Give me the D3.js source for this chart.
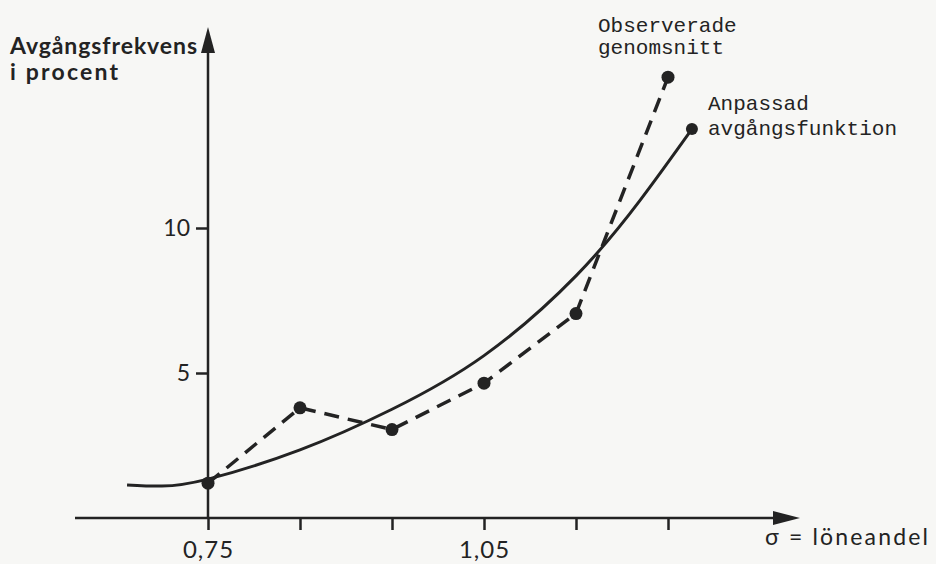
<!DOCTYPE html>
<html>
<head>
<meta charset="utf-8">
<script src="https://cdn.jsdelivr.net/npm/d3@7"></script>
<style>
	body { margin: 0; background: #f7f7f5; }
	svg { display: block; }
</style>
</head>
<body>
<div id="container"></div>
<script>
// values
var observedX = [0.75, 0.85, 0.95, 1.05, 1.15, 1.25];
var observedY = [1.2, 3.8, 3.05, 4.65, 7.05, 15.2];
var fittedX = [0.662, 0.70, 0.75, 0.85, 0.95, 1.05, 1.15, 1.22, 1.276];
var fittedY = [1.14, 1.10, 1.34, 2.35, 3.75, 5.6, 8.35, 10.97, 13.41];
var xTicks = [0.75, 0.85, 0.95, 1.05, 1.15, 1.25];
var xTickLabels = ["0,75", "", "", "1,05", "", ""];
var yTicks = [5, 10];
var yTickLabels = ["5", "10"];

(function()
{
	var width = 936, height = 564;
	var ink = "#232323";
	var svg = d3.select("#container").append("svg").attr("width", width).attr("height", height);

	var x = d3.scaleLinear().domain([0.75, 1.25]).range([208, 668]);
	var y = d3.scaleLinear().domain([0, 10]).range([518, 228]);

	// axis lines with arrow heads
	var x0 = x(0.75), y0 = y(0);
	svg.append("line").attr("x1", 75).attr("x2", 780).attr("y1", y0).attr("y2", y0)
		.attr("stroke", ink).attr("stroke-width", 2.5);
	svg.append("path").attr("d", "M800," + y0 + " L773," + (y0 - 7) + " L773," + (y0 + 7) + " Z").attr("fill", ink);
	svg.append("line").attr("x1", x0).attr("x2", x0).attr("y1", y0).attr("y2", 45)
		.attr("stroke", ink).attr("stroke-width", 2.5);
	svg.append("path").attr("d", "M" + x0 + ",27 L" + (x0 - 7) + ",53 L" + (x0 + 7) + ",53 Z").attr("fill", ink);

	var xAxis = d3.axisBottom(x).tickValues(xTicks).tickSize(12).tickPadding(11)
		.tickFormat(function(d, i) { return xTickLabels[i]; });
	var gx = svg.append("g").attr("transform", "translate(0," + y0 + ")").call(xAxis);
	gx.select(".domain").remove();
	gx.selectAll(".tick line").attr("stroke", ink).attr("stroke-width", 2.5);
	gx.selectAll(".tick text").attr("fill", ink).style("font", "24px Lato").style("letter-spacing", "1px");

	var yAxis = d3.axisLeft(y).tickValues(yTicks).tickSize(12).tickPadding(6)
		.tickFormat(function(d, i) { return yTickLabels[i]; });
	var gy = svg.append("g").attr("transform", "translate(" + x0 + ",0)").call(yAxis);
	gy.select(".domain").remove();
	gy.selectAll(".tick line").attr("stroke", ink).attr("stroke-width", 2.5);
	gy.selectAll(".tick text").attr("fill", ink).style("font", "23px Lato");

	// fitted curve (solid)
	var fitted = fittedX.map(function(d, i) { return [d, fittedY[i]]; });
	var line = d3.line().x(function(d) { return x(d[0]); }).y(function(d) { return y(d[1]); });
	svg.append("path").attr("d", line.curve(d3.curveNatural)(fitted))
		.attr("fill", "none").attr("stroke", ink).attr("stroke-width", 3);
	var last = fitted[fitted.length - 1];
	svg.append("circle").attr("cx", x(last[0])).attr("cy", y(last[1])).attr("r", 6).attr("fill", ink);

	// observed averages (dashed)
	var observed = observedX.map(function(d, i) { return [d, observedY[i]]; });
	svg.append("path").attr("d", line.curve(d3.curveLinear)(observed))
		.attr("fill", "none").attr("stroke", ink).attr("stroke-width", 3.5)
		.attr("stroke-dasharray", "15,9");
	svg.selectAll("circle.obs").data(observed).enter().append("circle").attr("class", "obs")
		.attr("cx", function(d) { return x(d[0]); })
		.attr("cy", function(d) { return y(d[1]); })
		.attr("r", 6.5).attr("fill", ink);

	// texts
	var sans = svg.append("g").attr("fill", ink).style("font-family", "Lato");
	sans.append("text").attr("x", 10).attr("y", 54).style("font-size", "23px").style("font-weight", 700)
		.attr("textLength", 187).text("Avgångsfrekvens");
	sans.append("text").attr("x", 10).attr("y", 80).style("font-size", "23px").style("font-weight", 700)
		.attr("textLength", 108).text("i procent");
	sans.append("text").attr("x", 765).attr("y", 545).style("font-size", "23px")
		.attr("textLength", 163).text("σ = löneandel");

	var mono = svg.append("g").attr("fill", ink).style("font-family", "Liberation Mono").style("font-size", "21px");
	mono.append("text").attr("x", 598).attr("y", 32).text("Observerade");
	mono.append("text").attr("x", 598).attr("y", 54).text("genomsnitt");
	mono.append("text").attr("x", 708).attr("y", 110).text("Anpassad");
	mono.append("text").attr("x", 708).attr("y", 135).text("avgångsfunktion");
})();
</script>
</body>
</html>
